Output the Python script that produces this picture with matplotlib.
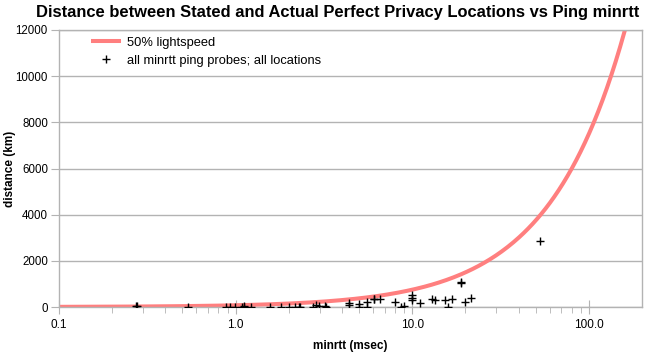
import numpy as np
import matplotlib
matplotlib.use("Agg")
import matplotlib.pyplot as plt
from matplotlib.ticker import FixedLocator, FixedFormatter, NullFormatter

plt.rcParams['font.family'] = ['Liberation Sans', 'DejaVu Sans']

# ping probes: minrtt (ms) vs distance between stated and actual location (km)
minrtt = [0.272, 0.275, 0.538, 0.878, 0.925, 0.987, 1.09, 1.11, 1.12, 1.23,
          1.56, 1.80, 2.00, 2.16, 2.28, 2.32, 2.74, 2.86, 2.95, 3.22, 3.25,
          4.37, 4.40, 4.98, 5.00, 5.55, 5.55, 6.04, 6.08, 6.56, 7.98, 8.63,
          8.93, 9.95, 9.95, 9.97, 11.0, 12.9, 13.4, 15.4, 15.9, 16.9, 18.8,
          18.8, 20.0, 21.6, 53.1]
distance = [30, 60, 0, 0, 0, 0, 20, 30, 10, 0,
            0, 0, 0, 0, 10, 20, 0, 70, 60, 40, 10,
            190, 100, 130, 0, 230, 0, 330, 350, 330, 200, 0,
            30, 530, 400, 300, 180, 350, 290, 290, 0, 360, 1040,
            1100, 215, 375, 2850]

# 50% of lightspeed, round trip -> one-way distance
LIGHTSPEED_KM_PER_MS = 299.792
FRACTION = 0.5
rtt_line = np.logspace(-1, np.log10(200), 400)
dist_line = rtt_line / 2.0 * LIGHTSPEED_KM_PER_MS * FRACTION

x_major = [0.1, 1.0, 10.0, 100.0]
x_labels = ["0.1", "1.0", "10.0", "100.0"]
y_ticks = [0, 2000, 4000, 6000, 8000, 10000, 12000]

grey = '#b3b3b3'

fig = plt.figure(figsize=(6.64, 3.52), dpi=100)
ax = fig.add_axes([59 / 664, 45 / 352, 583 / 664, 277 / 352])

ax.plot(rtt_line, dist_line, color='#ff7f7f', lw=2.9,
        label='50% lightspeed', zorder=2, solid_capstyle='butt')
ax.plot(minrtt, distance, '+', color='black', ms=5.5, mew=1.0,
        label='all minrtt ping probes; all locations', zorder=3)

ax.set_xscale('log')
ax.set_xlim(0.1, 200)
ax.set_ylim(0, 12000)

ax.xaxis.set_major_locator(FixedLocator(x_major))
ax.xaxis.set_major_formatter(FixedFormatter(x_labels))
minors = [m * d for d in [0.1, 1, 10, 100] for m in range(2, 10) if m * d < 200]
ax.xaxis.set_minor_locator(FixedLocator(minors))
ax.xaxis.set_minor_formatter(NullFormatter())
ax.set_yticks(y_ticks)

ax.grid(axis='y', color=grey, lw=1.0)
ax.set_axisbelow(True)
for sp in ax.spines.values():
    sp.set_color(grey)
    sp.set_linewidth(1.0)

ax.tick_params(axis='x', which='major', direction='inout', length=10,
               color=grey, labelsize=8.5, pad=4)
ax.tick_params(axis='x', which='minor', direction='out', length=4,
               color=grey)
ax.tick_params(axis='y', direction='out', length=6, color=grey,
               labelsize=8.3, pad=2)

ax.set_xlabel('minrtt (msec)', fontsize=8.5, fontweight='bold', labelpad=6)
ax.set_ylabel('distance (km)', fontsize=8.5, fontweight='bold')
ax.yaxis.set_label_coords(-43 / 583, 0.5)

fig.suptitle('Distance between Stated and Actual Perfect Privacy Locations vs Ping minrtt',
             x=338 / 664, y=0.985, fontsize=11.9, fontweight='bold')

ax.legend(loc='upper left', bbox_to_anchor=(0.055, 0.975), frameon=False,
          fontsize=9.3, handlelength=2.3, handletextpad=0.45,
          borderaxespad=0, borderpad=0, labelspacing=0.45, numpoints=1)

fig.savefig('out.png', dpi=100)
